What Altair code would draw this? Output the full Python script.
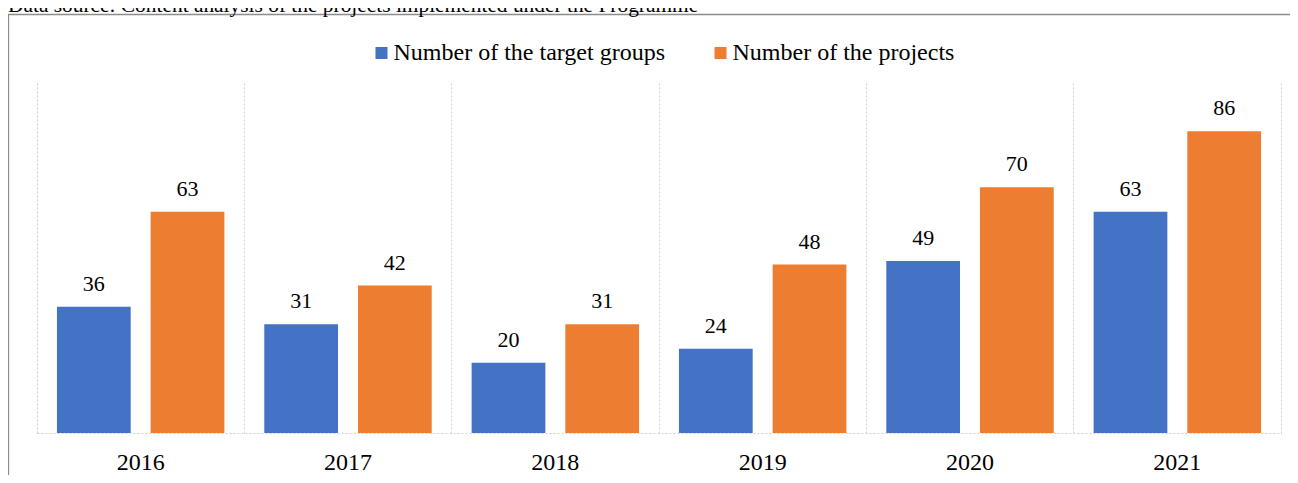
import altair as alt
import pandas as pd

years = ["2016", "2017", "2018", "2019", "2020", "2021"]
target_groups = [36, 31, 20, 24, 49, 63]
projects = [63, 42, 31, 48, 70, 86]
series_names = ["Number of the target groups", "Number of the projects"]
colors = ["#4472C4", "#ED7D31"]
source_note = "Data source: Content analysis of the projects implemented under the Programme"

rows = []
for i, yr in enumerate(years):
    rows.append({"year": yr, "series": series_names[0], "value": target_groups[i]})
    rows.append({"year": yr, "series": series_names[1], "value": projects[i]})
df = pd.DataFrame(rows)

W, H = 1244, 351
FONT = "Liberation Serif"
GRID = "#d0d0d0"

x_scale = alt.Scale(paddingInner=0, paddingOuter=0)
off_scale = alt.Scale(domain=series_names, paddingInner=0.213, paddingOuter=0.213)
y_scale = alt.Scale(domain=[0, 100], nice=False)
color_scale = alt.Scale(domain=series_names, range=colors)

base = alt.Chart(df)

bars = base.mark_bar().encode(
    x=alt.X("year:N", sort=years, scale=x_scale, title=None,
            axis=alt.Axis(orient="bottom", labelAngle=0, labelFont=FONT, labelFontSize=24,
                          labelColor="#000000", labelPadding=36, labelBaseline="alphabetic",
                          ticks=False, tickSize=0, domain=True, domainColor=GRID,
                          domainDash=[2, 2], domainWidth=1, grid=False)),
    xOffset=alt.XOffset("series:N", sort=series_names, scale=off_scale),
    y=alt.Y("value:Q", scale=y_scale, title=None,
            axis=alt.Axis(orient="left", labels=False, ticks=False, tickSize=0, grid=False,
                          domain=True, domainColor=GRID, domainDash=[2, 2], domainWidth=1)),
    color=alt.Color("series:N", sort=series_names, scale=color_scale, title=None,
                    legend=alt.Legend(orient="none", direction="horizontal", legendX=332.5,
                                      legendY=-41, symbolType="square", symbolSize=144,
                                      symbolStrokeWidth=0, labelFont=FONT, labelFontSize=24,
                                      labelColor="#000000", labelOffset=0, columnPadding=43,
                                      labelLimit=0, padding=0)),
)

labels = base.mark_text(font=FONT, fontSize=22, color="#000000", dy=-16,
                        baseline="alphabetic").encode(
    x=alt.X("year:N", sort=years, scale=x_scale, title=None,
            axis=alt.Axis(orient="top", labels=False, ticks=False, tickSize=0, domain=False,
                          grid=True, gridColor=GRID, gridDash=[2, 2], gridWidth=1,
                          bandPosition=0)),
    xOffset=alt.XOffset("series:N", sort=series_names, scale=off_scale),
    y=alt.Y("value:Q", scale=y_scale, title=None,
            axis=alt.Axis(orient="right", labels=False, ticks=False, tickSize=0, grid=False,
                          domain=True, domainColor=GRID, domainDash=[2, 2], domainWidth=1)),
    text=alt.Text("value:Q"),
)

frame = alt.Chart(alt.Data(values=[{"f": 1}])).mark_rect(
    filled=False, stroke="#8c8c8c", strokeWidth=1.3
).encode(
    x=alt.value(-28.5), x2=alt.value(W + 60), y=alt.value(-67.5), y2=alt.value(H + 120)
)

note = alt.Chart(alt.Data(values=[{"t": source_note}])).mark_text(
    font=FONT, fontSize=21.4, align="left", baseline="alphabetic", color="#000000"
).encode(
    x=alt.value(-29), y=alt.value(-70), text=alt.Text("t:N")
)

chart = alt.layer(frame, bars, labels, note).resolve_axis(
    x="independent", y="independent"
).properties(
    width=W, height=H,
    autosize=alt.AutoSizeParams(type="none"),
    padding={"left": 29, "top": 74, "right": 9, "bottom": 42},
).configure(font=FONT).configure_text(font=FONT).configure_view(stroke=None)

chart.save("out.html", embed_options={"renderer": "svg", "actions": False})
